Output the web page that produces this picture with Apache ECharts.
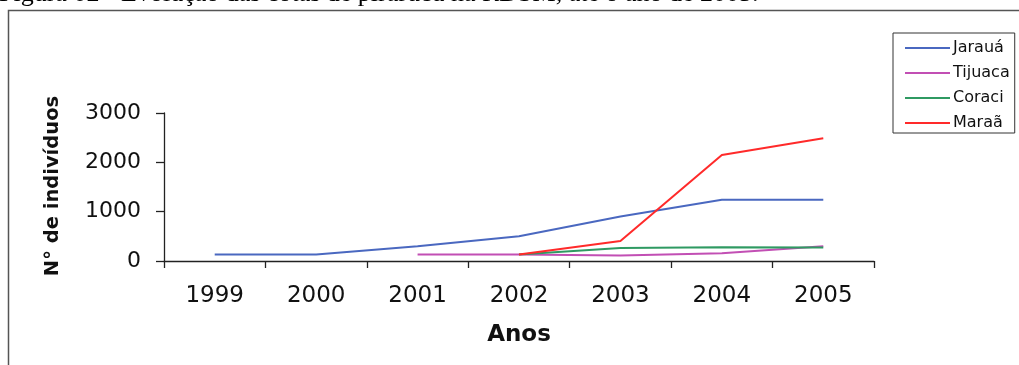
<!DOCTYPE html>
<html>
<head>
<meta charset="utf-8">
<script src="https://cdn.jsdelivr.net/npm/echarts@6/dist/echarts.min.js"></script>
<style>
  html, body { margin: 0; padding: 0; background: #ffffff; }
  #chart { width: 1019px; height: 365px; }
</style>
</head>
<body>
<div id="chart"></div>
<script>
// Anos e contagens de pirarucu por setor (null = sem contagem)
const years = ['1999', '2000', '2001', '2002', '2003', '2004', '2005'];
const jaraua  = [130, 130, 300, 500, 900, 1240, 1240];
const tijuaca = [null, null, 130, 130, 110, 155, 300];
const coraci  = [null, null, null, 130, 262, 278, 272];
const maraa   = [null, null, null, 130, 405, 2150, 2490];
const yTicks  = [0, 1000, 2000, 3000];

const seriesDefs = [
  { name: 'Jarauá',  data: jaraua,  color: '#4a68c0' },
  { name: 'Tijuaca', data: tijuaca, color: '#c24fb4' },
  { name: 'Coraci',  data: coraci,  color: '#2f9a62' },
  { name: 'Maraã',   data: maraa,   color: '#ff2a2a' }
];

const chart = echarts.init(document.getElementById('chart'), null, { renderer: 'canvas' });
const sans = 'DejaVu Sans';

chart.setOption({
  animation: false,
  backgroundColor: '#ffffff',
  grid: { left: 164, right: 145, top: 113, bottom: 104, containLabel: false },
  legend: {
    orient: 'vertical',
    left: 893,
    top: 33,
    padding: [7, 5, 2, 12],
    icon: 'rect',
    itemWidth: 45,
    itemHeight: 2,
    itemGap: 9,
    borderColor: '#333333',
    borderWidth: 1,
    textStyle: { fontFamily: sans, fontSize: 16, color: '#111111', padding: [0, 0, 0, -2] },
    data: seriesDefs.map(s => s.name)
  },
  xAxis: {
    type: 'category',
    data: years,
    boundaryGap: true,
    axisLine: { lineStyle: { color: '#222222', width: 1.3 } },
    axisTick: { show: true, length: 7, lineStyle: { color: '#222222', width: 1.3 } },
    axisLabel: { fontFamily: sans, fontSize: 23, color: '#111111', margin: 24 },
    splitLine: { show: false }
  },
  yAxis: {
    type: 'value',
    min: 0,
    max: yTicks[yTicks.length - 1],
    interval: yTicks[1] - yTicks[0],
    axisLine: { show: true, lineStyle: { color: '#222222', width: 1.3 } },
    axisTick: { show: true, length: 8, lineStyle: { color: '#222222', width: 1.3 } },
    axisLabel: {
      fontFamily: sans, fontSize: 22, color: '#111111', margin: 23,
      formatter: v => String(v)
    },
    splitLine: { show: false }
  },
  series: seriesDefs.map(s => ({
    name: s.name,
    type: 'line',
    data: s.data,
    symbol: 'none',
    connectNulls: false,
    color: s.color,
    itemStyle: { color: s.color },
    lineStyle: { color: s.color, width: 2 }
  })),
  graphic: [
    // moldura da figura
    {
      type: 'rect',
      shape: { x: 8.5, y: 10.5, width: 1100, height: 400 },
      style: { fill: 'none', stroke: '#555555', lineWidth: 1.5 },
      silent: true
    },
    // legenda da figura
    {
      type: 'text',
      x: -1,
      y: -6,
      style: {
        text: 'Figura 02 - Evolução das cotas de pirarucu na RDSM, até o ano de 2005.',
        fontFamily: 'Liberation Serif',
        fontSize: 26,
        fill: '#000000',
        verticalAlign: 'middle'
      }
    },
    // título do eixo Y
    {
      type: 'text',
      x: 53,
      y: 186,
      rotation: Math.PI / 2,
      style: {
        text: 'N° de indivíduos',
        fontFamily: sans,
        fontWeight: 'bold',
        fontSize: 19.5,
        fill: '#111111',
        align: 'center',
        verticalAlign: 'middle'
      }
    },
    // título do eixo X
    {
      type: 'text',
      x: 519,
      y: 335,
      style: {
        text: 'Anos',
        fontFamily: sans,
        fontWeight: 'bold',
        fontSize: 23,
        fill: '#111111',
        align: 'center',
        verticalAlign: 'middle'
      }
    }
  ]
});
</script>
</body>
</html>
